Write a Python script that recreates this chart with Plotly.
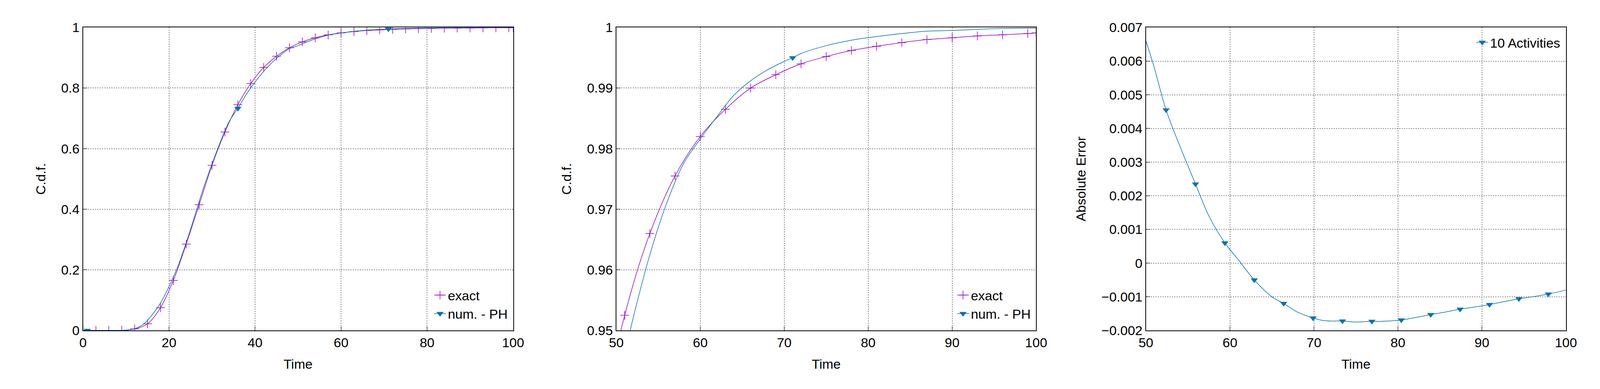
import plotly.graph_objects as go

# exact CDF, every 3 time units
t_exact = [0,3,6,9,12,15,18,21,24,27,30,33,36,39,42,45,48,51,54,57,60,63,66,69,72,75,78,81,84,87,90,93,96,99,100]
cdf_exact = [0,0,0,0.0005,0.005,0.022,0.075,0.165,0.285,0.415,0.545,0.655,0.745,0.815,0.868,0.905,0.933,0.9525,0.966,0.9755,0.982,0.9865,0.990,0.9922,0.994,0.9952,0.9962,0.9969,0.9975,0.998,0.9983,0.9986,0.9988,0.999,0.9991]

# numerical PH CDF
t_ph = [0,1,5,10,12,14,16,18,20,22,24,26,28,30,32,34,36,38,40,42,44,46,48,50,52,54,56,58,60,62,64,66,68,70,71,72,75,78,81,84,87,90,95,100]
cdf_ph = [0,0,0,0.001,0.006,0.02,0.05,0.09,0.145,0.21,0.29,0.38,0.47,0.55,0.625,0.69,0.733,0.78,0.82,0.855,0.885,0.91,0.93,0.940,0.952,0.9625,0.971,0.9775,0.9816,0.9853,0.9888,0.9912,0.993,0.9944,0.9950,0.9957,0.997,0.9979,0.9985,0.999,0.9994,0.9995,0.9998,0.9999]
t_ph_marks = [1,36,71]
cdf_ph_marks = [0,0.733,0.9950]

# absolute error (exact - PH)
t_err = [50,51,52.4,54,55.9,57.5,59.4,61,62.9,65,66.4,68,69.9,71,72,73.4,75,76.9,78,80.4,82,83.9,85.5,87.4,89,90.9,92.5,94.4,96,97.9,100]
err = [0.0066,0.0058,0.00455,0.0035,0.00235,0.0014,0.0006,0.0001,-0.0005,-0.001,-0.0012,-0.00145,-0.00163,-0.0017,-0.00172,-0.00172,-0.00175,-0.00173,-0.00173,-0.00169,-0.00162,-0.00153,-0.00146,-0.00137,-0.00131,-0.00123,-0.00115,-0.00106,-0.001,-0.00092,-0.0008]
t_err_marks = [52.4,55.9,59.4,62.9,66.4,69.9,73.4,76.9,80.4,83.9,87.4,90.9,94.4,97.9]
err_marks = [0.00455,0.00235,0.0006,-0.0005,-0.0012,-0.00163,-0.00172,-0.00173,-0.00169,-0.00153,-0.00137,-0.00123,-0.00106,-0.00092]

PURPLE = "#9400D3"
BLUE = "#0072B2"
FONT = "Liberation Sans"
FS = 34

fig = go.Figure()
for xa, ya, leg in [("x", "y", "legend"), ("x2", "y2", "legend2")]:
    fig.add_trace(go.Scatter(x=t_exact, y=cdf_exact, mode="lines+markers", name="exact",
                             line=dict(color=PURPLE, width=1.5, shape="spline"),
                             marker=dict(symbol="cross-thin", size=16, line=dict(color=PURPLE, width=1.5)),
                             xaxis=xa, yaxis=ya, legend=leg))
    fig.add_trace(go.Scatter(x=t_ph, y=cdf_ph, mode="lines", line=dict(color=BLUE, width=1.5, shape="spline"),
                             showlegend=False, xaxis=xa, yaxis=ya))
    fig.add_trace(go.Scatter(x=t_ph_marks, y=cdf_ph_marks, mode="markers", showlegend=False,
                             marker=dict(symbol="triangle-down", size=16, color=BLUE), xaxis=xa, yaxis=ya))
    fig.add_trace(go.Scatter(x=[None], y=[None], mode="lines+markers", name="num. - PH",
                             line=dict(color=BLUE, width=1.5),
                             marker=dict(symbol="triangle-down", size=16, color=BLUE),
                             xaxis=xa, yaxis=ya, legend=leg))

fig.add_trace(go.Scatter(x=t_err, y=err, mode="lines", line=dict(color=BLUE, width=1.5, shape="spline"),
                         showlegend=False, xaxis="x3", yaxis="y3"))
fig.add_trace(go.Scatter(x=t_err_marks, y=err_marks, mode="markers", showlegend=False,
                         marker=dict(symbol="triangle-down", size=16, color=BLUE), xaxis="x3", yaxis="y3"))
fig.add_trace(go.Scatter(x=[None], y=[None], mode="lines+markers", name="10 Activities",
                         line=dict(color=BLUE, width=1.5),
                         marker=dict(symbol="triangle-down", size=16, color=BLUE),
                         xaxis="x3", yaxis="y3", legend="legend3"))

ax = dict(showline=True, linecolor="black", linewidth=2, mirror=True, ticks="inside", ticklen=10,
          tickcolor="black", showgrid=True, gridcolor="#888", griddash="dot", gridwidth=1.5,
          zeroline=False, tickfont=dict(size=FS, family=FONT, color="black"))
top, bot = 0.954, 0.1305
doms = [(0.046, 0.319), (0.3845, 0.651), (0.7207, 0.9873)]
layout = dict(autosize=True, plot_bgcolor="white", paper_bgcolor="white",
              margin=dict(l=0, r=0, t=0, b=0), font=dict(family=FONT, size=FS, color="black"))
xr = [(0, 100, 20), (50, 100, 10), (50, 100, 10)]
yr = [(0, 1, 0.2, "C.d.f."), (0.95, 1, 0.01, "C.d.f."), (-0.002, 0.007, 0.001, "Absolute Error")]
for i in range(3):
    s = "" if i == 0 else str(i + 1)
    layout["xaxis" + s] = dict(ax, domain=list(doms[i]), range=[xr[i][0], xr[i][1]], dtick=xr[i][2],
                               anchor="y" + s, title=dict(text="Time", font=dict(size=FS), standoff=25))
    layout["yaxis" + s] = dict(ax, domain=[bot, top], range=[yr[i][0], yr[i][1]], dtick=yr[i][2],
                               anchor="x" + s, title=dict(text=yr[i][3], font=dict(size=FS), standoff=30))
legbase = dict(bgcolor="rgba(0,0,0,0)", font=dict(size=FS, family=FONT), xanchor="right", tracegroupgap=0)
layout["legend"] = dict(legbase, x=0.317, y=bot + 0.015, yanchor="bottom")
layout["legend2"] = dict(legbase, x=0.649, y=bot + 0.015, yanchor="bottom")
layout["legend3"] = dict(legbase, x=0.985, y=top - 0.01, yanchor="top")
fig.update_layout(**layout)
fig.write_html("out.html", default_width="100%", default_height="100%")
